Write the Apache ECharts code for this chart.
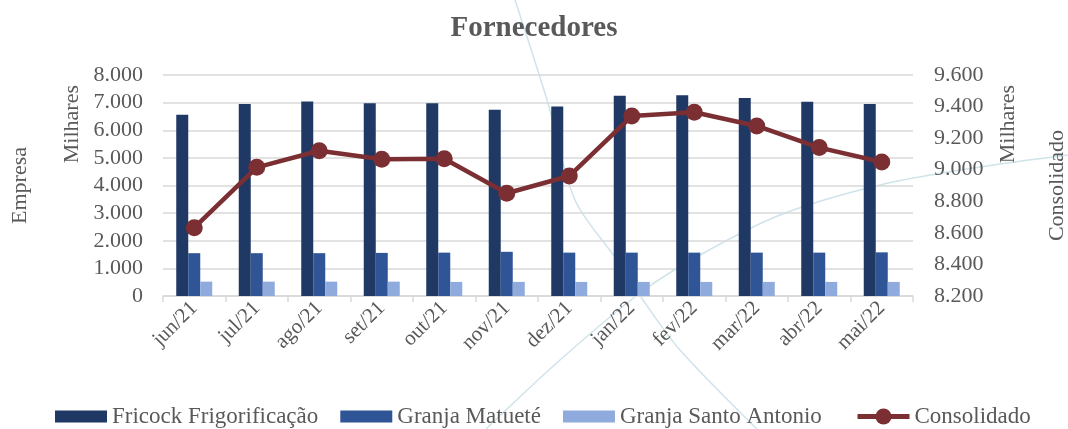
<!DOCTYPE html>
<html>
<head>
<meta charset="utf-8">
<script src="https://cdn.jsdelivr.net/npm/echarts@6/dist/echarts.min.js"></script>
<style>
  html, body { margin: 0; padding: 0; background: #fff; }
  #chart { width: 1068px; height: 429px; }
</style>
</head>
<body>
<div id="chart"></div>
<script>
// meses
var meses = ['jun/21','jul/21','ago/21','set/21','out/21','nov/21','dez/21','jan/22','fev/22','mar/22','abr/22','mai/22'];
// valores em milhares
var fricock = [6560, 6950, 7040, 6980, 6980, 6740, 6860, 7250, 7270, 7170, 7030, 6950];
var matuete = [1550, 1550, 1550, 1560, 1570, 1600, 1570, 1570, 1570, 1570, 1570, 1580];
var santoAntonio = [520, 520, 520, 520, 510, 510, 510, 510, 510, 510, 510, 510];
var consolidado = [8633, 9015, 9120, 9066, 9070, 8851, 8960, 9340, 9364, 9277, 9140, 9049];

var fonte = '"Liberation Serif", "DejaVu Serif", serif';
var cinza = '#595959';
var vinho = '#7b2f32';

function fmt(v){
    return String(v).replace(/\B(?=(\d{3})+(?!\d))/g, '.');
}

var chart = echarts.init(document.getElementById('chart'));

var option = {
    animation: false,
    textStyle: { fontFamily: fonte, color: cinza },
    title: {
        text: 'Fornecedores',
        left: 'center',
        top: 9,
        textStyle: { fontFamily: fonte, fontSize: 29, fontWeight: 'bold', color: cinza }
    },
    legend: [
        {
            top: 400,
            left: 50,
            itemWidth: 52,
            itemHeight: 12,
            itemGap: 22,
            textStyle: { fontFamily: fonte, fontSize: 23, color: cinza },
            data: [
                { name: 'Fricock Frigorificação', icon: 'rect' },
                { name: 'Granja Matueté', icon: 'rect' },
                { name: 'Granja Santo Antonio', icon: 'rect' }
            ]
        },
        {
            top: 400,
            left: 850,
            itemWidth: 52,
            itemHeight: 20,
            lineStyle: { width: 5, color: vinho },
            textStyle: { fontFamily: fonte, fontSize: 23, color: cinza },
            data: ['Consolidado']
        }
    ],
    grid: { left: 163, right: 155, top: 75, bottom: 133, outerBoundsMode: 'none' },
    xAxis: {
        type: 'category',
        data: meses,
        axisLine: { lineStyle: { color: '#d9d9d9', width: 1.5 } },
        axisTick: { show: true, length: 6, lineStyle: { color: '#d9d9d9', width: 1.5 } },
        axisLabel: { rotate: 45, fontFamily: fonte, fontSize: 21, color: cinza, margin: 9 }
    },
    yAxis: [
        {
            type: 'value',
            min: 0, max: 8000, interval: 1000,
            name: 'Empresa',
            nameLocation: 'middle',
            nameGap: 132,
            nameTextStyle: { fontFamily: fonte, fontSize: 22, color: cinza },
            axisLabel: { fontFamily: fonte, fontSize: 22, color: cinza, margin: 20, formatter: function(v){ return fmt(v); } },
            splitLine: { lineStyle: { color: '#d9d9d9', width: 1.5 } },
            axisLine: { show: false },
            axisTick: { show: false }
        },
        {
            type: 'value',
            min: 8200, max: 9600, interval: 200,
            name: 'Consolidado',
            nameLocation: 'middle',
            nameGap: 133,
            nameRotate: 90,
            nameTextStyle: { fontFamily: fonte, fontSize: 22, color: cinza },
            axisLabel: { fontFamily: fonte, fontSize: 22, color: cinza, margin: 21, formatter: function(v){ return fmt(v); } },
            splitLine: { show: false },
            axisLine: { show: false },
            axisTick: { show: false }
        }
    ],
    graphic: [
        // linhas decorativas do fundo
        { type: 'polyline', z: -10, silent: true,
          shape: { points: [[515,0],[547,100],[575,200],[617,260],[643,300],[680,350],[757,429]], smooth: 0.3 },
          style: { stroke: '#cfe3ea', lineWidth: 1.5, fill: null } },
        { type: 'polyline', z: -10, silent: true,
          shape: { points: [[486,429],[560,360],[640,293],[700,255],[780,215],[880,185],[980,167],[1068,155]], smooth: 0.3 },
          style: { stroke: '#cfe3ea', lineWidth: 1.5, fill: null } },
        // "Milhares" dos dois eixos
        { type: 'text', left: 61, top: 85, rotation: Math.PI / 2, silent: true,
          style: { text: 'Milhares', font: '22px "Liberation Serif"', fill: cinza } },
        { type: 'text', left: 997, top: 85, rotation: Math.PI / 2, silent: true,
          style: { text: 'Milhares', font: '22px "Liberation Serif"', fill: cinza } }
    ],
    series: [
        {
            name: 'Fricock Frigorificação',
            type: 'bar',
            barWidth: 12,
            barGap: '0%',
            itemStyle: { color: '#1f3864' },
            data: fricock
        },
        {
            name: 'Granja Matueté',
            type: 'bar',
            barWidth: 12,
            barGap: '0%',
            itemStyle: { color: '#2f5597' },
            data: matuete
        },
        {
            name: 'Granja Santo Antonio',
            type: 'bar',
            barWidth: 12,
            barGap: '0%',
            itemStyle: { color: '#8faadc' },
            data: santoAntonio
        },
        {
            name: 'Consolidado',
            type: 'line',
            yAxisIndex: 1,
            symbol: 'circle',
            symbolSize: 17,
            lineStyle: { color: vinho, width: 4.5 },
            itemStyle: { color: vinho },
            z: 5,
            data: consolidado
        }
    ]
};

chart.setOption(option);
</script>
</body>
</html>
